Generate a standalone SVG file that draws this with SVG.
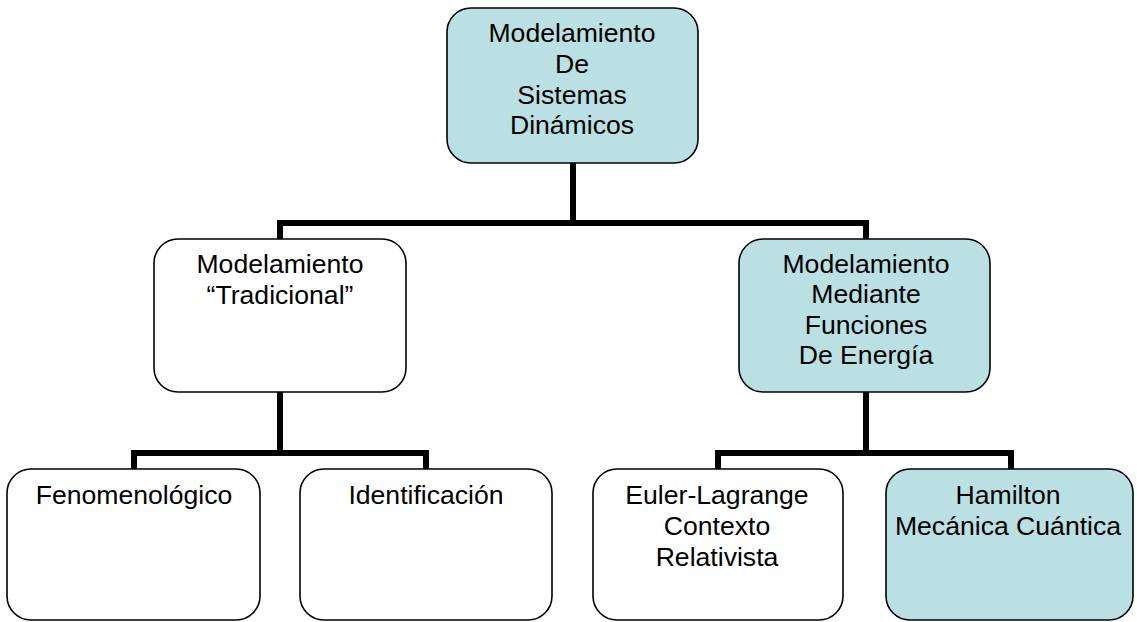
<svg xmlns="http://www.w3.org/2000/svg" width="1137" height="622" viewBox="0 0 1137 622">
<style>
.box{stroke:#000;stroke-width:1.6}
.w{fill:#fff}
.t{fill:#bbe0e3}
.lbl{font-family:"Liberation Sans",Arial,sans-serif;font-size:26.6px;fill:#000;text-anchor:middle}
.con{fill:none;stroke:#000;stroke-width:6;stroke-linejoin:miter;stroke-linecap:butt}
</style>
<rect width="1137" height="622" fill="#fff"/>
<g id="connectors">
<path class="con" d="M573,163 V223"/>
<path class="con" d="M280,239 V223 H866 V239"/>
<path class="con" d="M280,392 V453"/>
<path class="con" d="M134,469 V453 H426 V469"/>
<path class="con" d="M866,392 V453"/>
<path class="con" d="M718,469 V453 H1011 V469"/>
</g>
<g id="root">
<rect class="box t" x="447" y="8" width="251" height="155" rx="24"/>
<text class="lbl" x="572" y="42">Modelamiento</text>
<text class="lbl" x="572" y="73">De</text>
<text class="lbl" x="572" y="104">Sistemas</text>
<text class="lbl" x="572" y="134">Dinámicos</text>
</g>
<g id="tradicional">
<rect class="box w" x="154" y="239" width="252" height="153" rx="24"/>
<text class="lbl" x="280" y="273">Modelamiento</text>
<text class="lbl" x="280" y="304">“Tradicional”</text>
</g>
<g id="energia">
<rect class="box t" x="739" y="239" width="251" height="153" rx="24"/>
<text class="lbl" x="866" y="273">Modelamiento</text>
<text class="lbl" x="866" y="303">Mediante</text>
<text class="lbl" x="866" y="334">Funciones</text>
<text class="lbl" x="866" y="364">De Energía</text>
</g>
<g id="fenomenologico">
<rect class="box w" x="7" y="469" width="253" height="151" rx="24"/>
<text class="lbl" x="134" y="504">Fenomenológico</text>
</g>
<g id="identificacion">
<rect class="box w" x="300" y="469" width="252" height="151" rx="24"/>
<text class="lbl" x="426" y="504">Identificación</text>
</g>
<g id="euler">
<rect class="box w" x="593" y="469" width="250" height="151" rx="24"/>
<text class="lbl" x="717" y="504">Euler-Lagrange</text>
<text class="lbl" x="717" y="535">Contexto</text>
<text class="lbl" x="717" y="566">Relativista</text>
</g>
<g id="hamilton">
<rect class="box t" x="886" y="469" width="247" height="151" rx="24"/>
<text class="lbl" x="1008" y="504">Hamilton</text>
<text class="lbl" x="1008" y="535">Mecánica Cuántica</text>
</g>
</svg>
